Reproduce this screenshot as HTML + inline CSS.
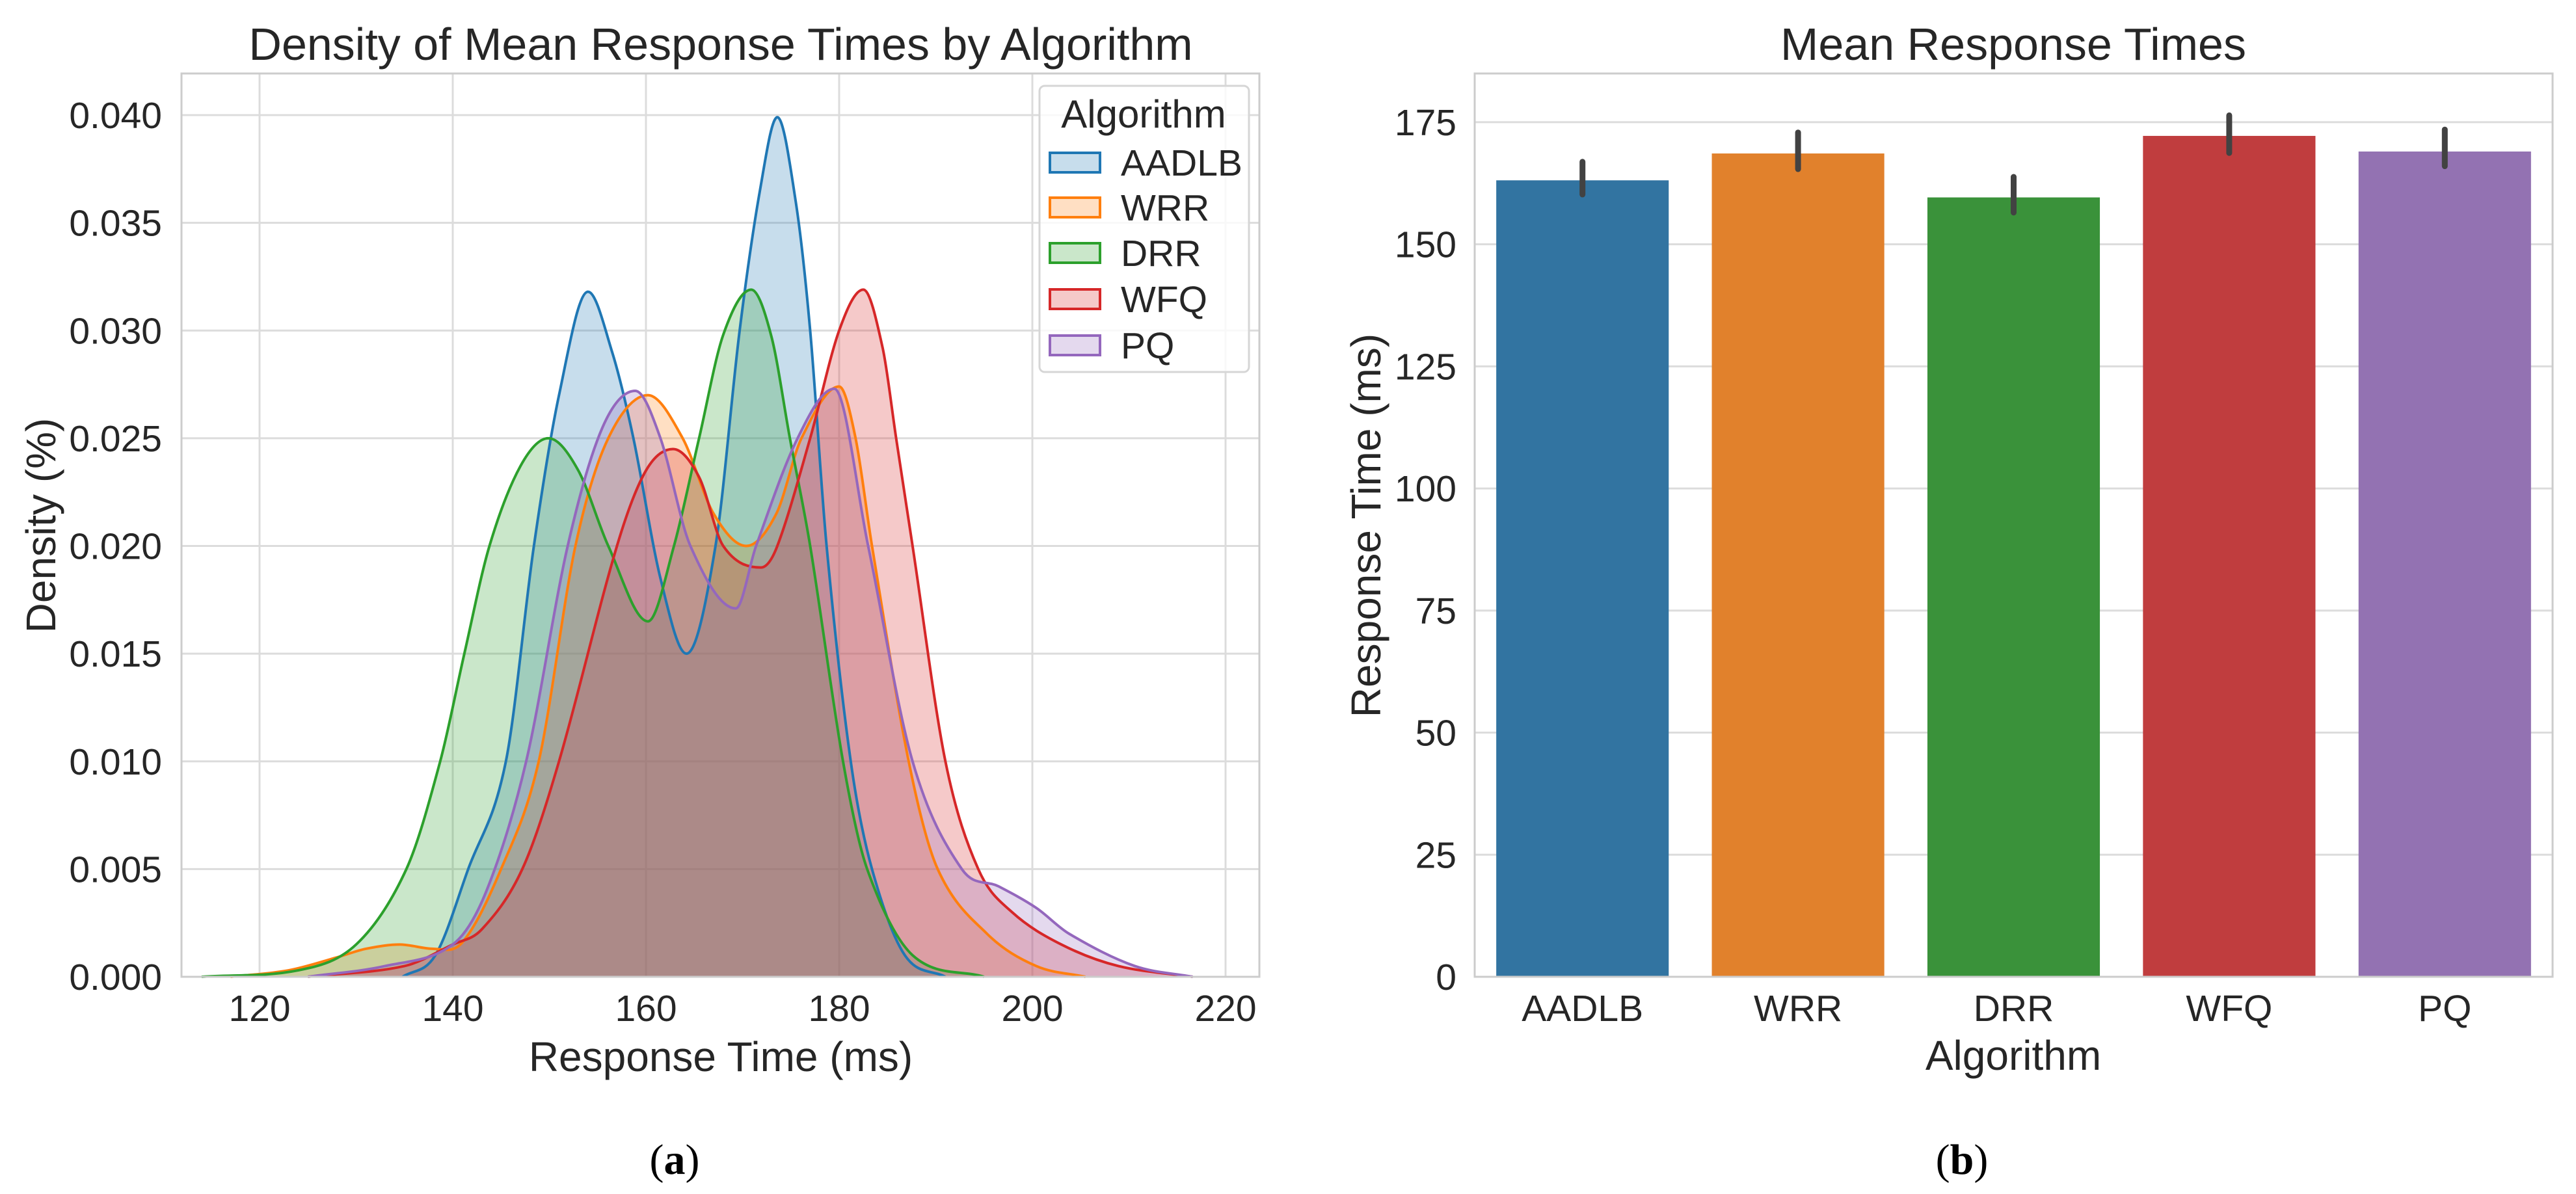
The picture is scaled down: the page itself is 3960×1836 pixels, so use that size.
<!DOCTYPE html>
<html><head><meta charset="utf-8"><style>
html,body{margin:0;padding:0;background:#fff;}
svg{display:block;font-family:"Liberation Sans",sans-serif;}
</style></head><body>
<svg id="c" width="3960" height="1836" viewBox="0 0 3960 1836" xmlns="http://www.w3.org/2000/svg"></svg>
<script>
// ---- Density chart data ----
const kdeSeries = ["AADLB","WRR","DRR","WFQ","PQ"];
const kdeColors = ["#1f77b4","#ff7f0e","#2ca02c","#d62728","#9467bd"];
const aadlbX = [134.8,138.2,141.6,145.5,148.4,151,154,156.5,158.7,161.5,164.2,167.2,169.7,171.8,173.6,175.5,177,178.7,181.2,183.4,186.8,191];
const aadlbY = [0,0.001,0.005,0.010,0.020,0.027,0.0318,0.029,0.025,0.0185,0.0150,0.020,0.030,0.0365,0.0399,0.036,0.030,0.020,0.010,0.005,0.001,0];
const wrrX = [117,123,128,131,134.5,138,141,145,148.9,152.7,156.1,160.2,163.8,167,170.4,173.5,176.1,180,181.7,183.4,187.2,190.2,195.3,200.4,205.5];
const wrrY = [0,0.0003,0.0009,0.0013,0.0015,0.0013,0.0016,0.005,0.010,0.020,0.025,0.0270,0.025,0.0215,0.0200,0.0215,0.025,0.0274,0.025,0.020,0.010,0.005,0.002,0.0005,0];
const drrX = [114,124,130,135.2,138.7,141.2,143.8,147,149.9,153,156.1,160.2,162.9,165.5,168,170.9,173,174.9,177,180.4,182.9,187.6,195];
const drrY = [0,0.0003,0.0015,0.005,0.010,0.015,0.020,0.0237,0.0250,0.0235,0.020,0.0165,0.020,0.025,0.0298,0.0319,0.0297,0.025,0.020,0.010,0.005,0.001,0];
const wfqX = [125,135,140,143,147.2,151,157,160,162.8,165.5,168,171.9,173.6,177,180,182.5,184.5,185.9,187.6,191,194.4,197.9,203,208.9,216.6];
const wfqY = [0,0.0005,0.0015,0.0022,0.005,0.010,0.020,0.0235,0.0245,0.0232,0.020,0.0190,0.020,0.025,0.030,0.0319,0.0292,0.025,0.020,0.010,0.005,0.003,0.0015,0.0005,0];
const pqX = [125,133,140,143.5,147.6,151.9,155.5,158.9,161.5,164.6,169.3,171.4,175.7,179.5,183,187.6,192.7,196.5,200.4,203.8,210.6,216.6];
const pqY = [0,0.0005,0.0015,0.004,0.010,0.020,0.0255,0.0272,0.025,0.020,0.0171,0.020,0.025,0.0273,0.020,0.010,0.005,0.0042,0.0032,0.002,0.0005,0];
const kdeXTicks = [120,140,160,180,200,220];
const kdeYTicks = [0,0.005,0.010,0.015,0.020,0.025,0.030,0.035,0.040];
const kdeYLabels = ["0.000","0.005","0.010","0.015","0.020","0.025","0.030","0.035","0.040"];
// ---- Bar chart data ----
const barCats = ["AADLB","WRR","DRR","WFQ","PQ"];
const barVals = [163.1,168.6,159.6,172.2,169.0];
const barLo = [160.2,165.4,156.5,168.7,166.0];
const barHi = [166.9,172.9,163.8,176.4,173.5];
const barColors = ["#3274a1","#e1812c","#3a923a","#c03d3e","#9372b2"];
const barYTicks = [0,25,50,75,100,125,150,175];

const NS="http://www.w3.org/2000/svg";
const svg=document.getElementById('c');
function mk(tag,attrs,parent){const e=document.createElementNS(NS,tag);for(const k in attrs)e.setAttribute(k,attrs[k]);(parent||svg).appendChild(e);return e;}
function txt(s,attrs,parent){const e=mk('text',attrs,parent);e.textContent=s;return e;}

// ===== Left chart =====
const L={x0:279,x1:1936,y0:113,y1:1502};
const kx=v=>399+(v-120)*14.85;
const ky=v=>1502-v*33125;
const gL=mk('g',{});


kdeYTicks.forEach((t,i)=>{
  const l=mk('line',{x1:L.x0,x2:L.x1,y1:ky(t),y2:ky(t),stroke:'#dcdcdc','stroke-width':3},gL);
  
  
  const tl=txt(kdeYLabels[i],{x:249,y:ky(t)+20,'text-anchor':'end','font-size':57,fill:'#262626'},gL);
  
  
});
kdeXTicks.forEach(t=>{
  const l=mk('line',{x1:kx(t),x2:kx(t),y1:L.y0,y2:L.y1,stroke:'#dcdcdc','stroke-width':3},gL);
  
  
  const tl=txt(String(t),{x:kx(t),y:1570,'text-anchor':'middle','font-size':57,fill:'#262626'},gL);
  
  
});
function smoothPath(xs,ys){
  const n=xs.length,px=xs.map(kx),py=ys.map(ky);
  const m=[];
  for(let i=0;i<n;i++){
    if(i===0)m.push((py[1]-py[0])/(px[1]-px[0]));
    else if(i===n-1)m.push((py[n-1]-py[n-2])/(px[n-1]-px[n-2]));
    else{
      const a=py[i]-py[i-1],b=py[i+1]-py[i];
      if(a*b<=0)m.push(0);
      else m.push((py[i+1]-py[i-1])/(px[i+1]-px[i-1]));
    }
  }
  let p='M'+px[0]+','+py[0];
  for(let i=0;i<n-1;i++){
    const h=(px[i+1]-px[i])/3;
    let c1=py[i]+m[i]*h, c2=py[i+1]-m[i+1]*h;
    c1=Math.min(c1,ky(0)); c2=Math.min(c2,ky(0));
    p+=' C'+(px[i]+h)+','+c1+' '+(px[i+1]-h)+','+c2+' '+px[i+1]+','+py[i+1];
  }
  return p;
}
const allX=[aadlbX,wrrX,drrX,wfqX,pqX], allY=[aadlbY,wrrY,drrY,wfqY,pqY];
const lines=[];
allX.forEach((xs,i)=>{
  const p=smoothPath(xs,allY[i]);
  const a=mk('path',{d:p+' L'+kx(xs[xs.length-1])+','+ky(0)+' L'+kx(xs[0])+','+ky(0)+' Z',fill:kdeColors[i],'fill-opacity':0.25,stroke:'none'},gL);
  
  
  lines.push(p);
});
lines.forEach((p,i)=>{
  const l=mk('path',{d:p,fill:'none',stroke:kdeColors[i],'stroke-width':4},gL);
  
  
});
const spL=mk('rect',{x:L.x0,y:L.y0,width:L.x1-L.x0,height:L.y1-L.y0,fill:'none',stroke:'#cccccc','stroke-width':3},gL);


// legend
const lg=mk('g',{},gL);


mk('rect',{x:1598,y:132,width:322,height:440,rx:8,fill:'#fff','fill-opacity':0.8,stroke:'#d6d6d6','stroke-width':3},lg);
const lt=txt('Algorithm',{x:1758,y:196,'text-anchor':'middle','font-size':60,fill:'#262626'},lg);


const legY=[250,319,389,460,531];
kdeSeries.forEach((s,i)=>{
  const ge=mk('g',{},lg);
  
  
  mk('rect',{x:1614,y:legY[i]-15,width:77,height:30,fill:kdeColors[i],'fill-opacity':0.25,stroke:kdeColors[i],'stroke-width':4},ge);
  txt(s,{x:1723,y:legY[i]+20,'font-size':57,fill:'#262626'},ge);
});
const t1=txt('Density of Mean Response Times by Algorithm',{x:1108,y:92,'text-anchor':'middle','font-size':70,fill:'#262626'},gL);


const xt1=txt('Response Time (ms)',{x:1108,y:1647,'text-anchor':'middle','font-size':64,fill:'#262626'},gL);


const yt1=txt('Density (%)',{x:0,y:0,'text-anchor':'middle','font-size':64,fill:'#262626',transform:'translate(85,808) rotate(-90)'},gL);


const ca=mk('text',{x:1037,y:1805,'text-anchor':'middle','font-size':66,fill:'#000','font-family':'"Liberation Serif",serif'},svg);


ca.innerHTML='(<tspan font-weight="bold">a</tspan>)';

// ===== Right chart =====
const R={x0:2267,x1:3924,y0:113,y1:1502};
const by=v=>1502-v*7.509;
const band=(R.x1-R.x0)/barCats.length;
const bx=i=>R.x0+band*(i+0.5);
const gR=mk('g',{});


barYTicks.forEach(t=>{
  const l=mk('line',{x1:R.x0,x2:R.x1,y1:by(t),y2:by(t),stroke:'#dcdcdc','stroke-width':3},gR);
  
  
  const tl=txt(String(t),{x:2239,y:by(t)+20,'text-anchor':'end','font-size':57,fill:'#262626'},gR);
  
  
});
barCats.forEach((c,i)=>{
  const w=band*0.8;
  const b=mk('rect',{x:bx(i)-w/2,y:by(barVals[i]),width:w,height:by(0)-by(barVals[i]),fill:barColors[i]},gR);
  
  
  const e=mk('line',{x1:bx(i),x2:bx(i),y1:by(barLo[i]),y2:by(barHi[i]),stroke:'#424242','stroke-width':9,'stroke-linecap':'round'},gR);
  
  
  const tl=txt(c,{x:bx(i),y:1570,'text-anchor':'middle','font-size':57,fill:'#262626'},gR);
  
  
});
const spR=mk('rect',{x:R.x0,y:R.y0,width:R.x1-R.x0,height:R.y1-R.y0,fill:'none',stroke:'#cccccc','stroke-width':3},gR);


const t2=txt('Mean Response Times',{x:3095,y:92,'text-anchor':'middle','font-size':70,fill:'#262626'},gR);


const xt2=txt('Algorithm',{x:3095,y:1645,'text-anchor':'middle','font-size':64,fill:'#262626'},gR);


const yt2=txt('Response Time (ms)',{x:0,y:0,'text-anchor':'middle','font-size':64,fill:'#262626',transform:'translate(2122,808) rotate(-90)'},gR);


const cb=mk('text',{x:3016,y:1805,'text-anchor':'middle','font-size':66,fill:'#000','font-family':'"Liberation Serif",serif'},svg);


cb.innerHTML='(<tspan font-weight="bold">b</tspan>)';
</script>
</body></html>
